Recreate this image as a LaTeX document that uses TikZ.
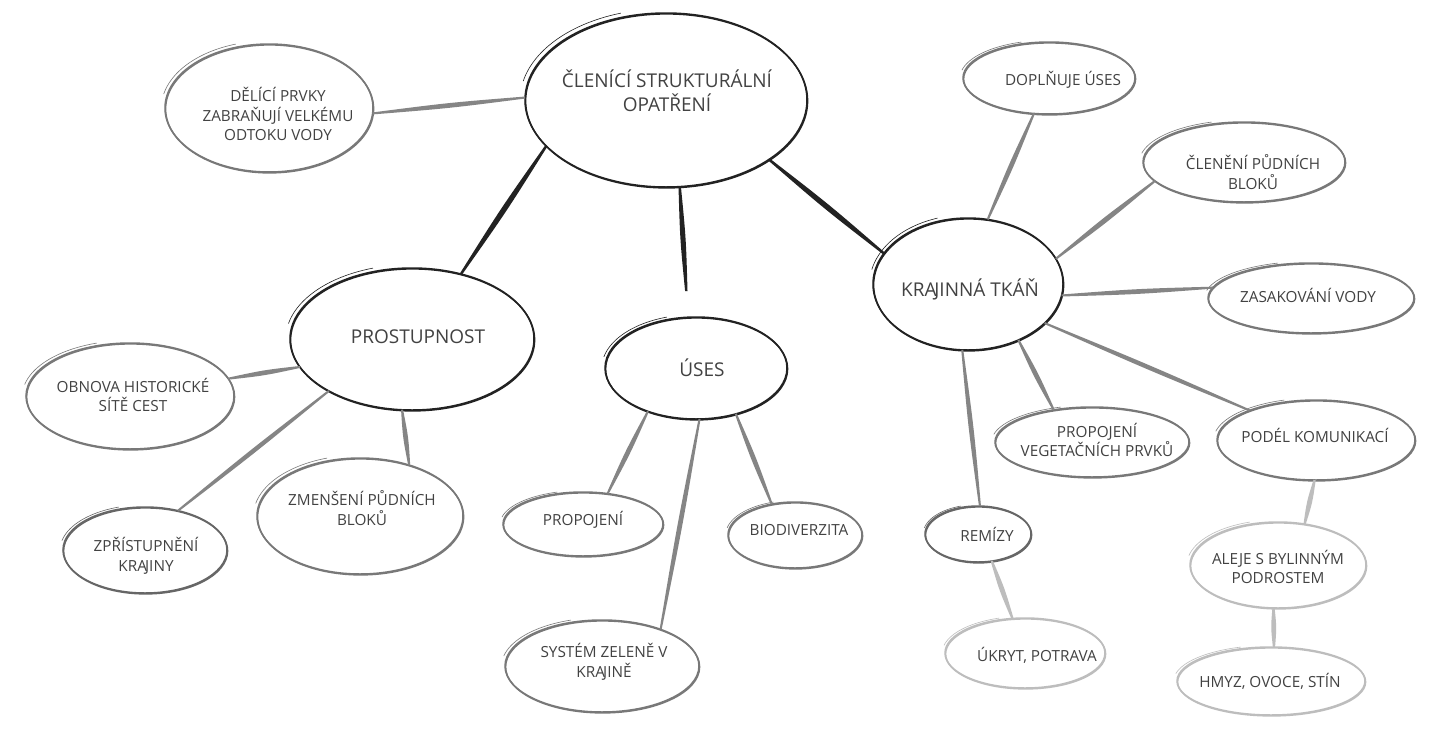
\documentclass[tikz,border=0pt]{standalone}
\usepackage{fontspec}
\setmainfont{Open Sans}
\usetikzlibrary{calc,shapes.geometric}
\definecolor{cInk}{HTML}{222222}
\definecolor{cMid}{HTML}{787878}
\definecolor{cDark}{HTML}{666666}
\definecolor{cCon}{HTML}{858585}
\definecolor{cLight}{HTML}{BDBDBD}
\definecolor{cTxt}{HTML}{424242}
\tikzset{
  anch/.style={ellipse, inner sep=0pt, outer sep=0pt, draw=none},
  bigtxt/.style={font=\fontsize{19}{24}\selectfont, text=cTxt, align=center, inner sep=0pt},
  smalltxt/.style={font=\fontsize{15.3}{19.5}\selectfont, text=cTxt, align=center, inner sep=0pt},
  olBlack/.style={draw=cInk},
  olGray/.style={draw=cMid},
  olDark/.style={draw=cDark},
  olLight/.style={draw=cLight},
  cnBlack/.style={fill=cInk, draw=cInk, line width=2.4pt, line cap=round},
  cnGray/.style={fill=cCon, draw=cCon, line width=2.0pt, line cap=round},
  cnLight/.style={fill=cLight, draw=cLight, line width=2.2pt, line cap=round},
}
% bubble: name, x, y, x radius, y radius, outline style
\newcommand\bubble[6]{%
  \node[anch, minimum width={2*#4pt}, minimum height={2*#5pt}] (#1) at (#2,#3) {};
  \draw[#6, line width=1.5pt] (#1.center) ellipse [x radius=#4pt, y radius=#5pt];
  \draw[#6, line width=1.5pt] ([shift={(0.6,0.9)}]#1.center) ellipse [x radius=#4pt, y radius=#5pt];
  \draw[#6, line width=0.6pt, shift={(#1.center)}] plot[domain=108:168, samples=20, smooth]
    ({1.035*#4*cos(\x)}, {-1.05*#5*sin(\x)});
}
% tapered connector: style, from, to, width
\newcommand\conn[4]{%
  \filldraw[#1] (#2) .. controls ($(#2)!0.5!(#3)!#4pt!90:(#3)$) .. (#3)
    .. controls ($(#2)!0.5!(#3)!#4pt!-90:(#3)$) .. (#2) -- cycle;}
\begin{document}
\begin{tikzpicture}[x=1pt, y=-1pt]
\fill[white] (0,0) rectangle (1430,731);
\useasboundingbox (0,0) rectangle (1430,731);

% bubbles
\bubble{M}{666}{100}{141}{87}{olBlack}
\bubble{D}{269}{108}{104}{64}{olGray}
\bubble{P}{412}{339}{122}{71}{olBlack}
\bubble{O}{130}{396}{104}{53}{olGray}
\bubble{Z}{145}{550}{82}{43}{olDark}
\bubble{ZM}{360}{516}{103}{58}{olGray}
\bubble{U}{696}{368}{91}{51}{olBlack}
\bubble{PR}{583}{524}{80}{32}{olGray}
\bubble{B}{795}{535}{67}{33}{olGray}
\bubble{S}{602}{666}{97}{46}{olGray}
\bubble{K}{968}{284}{95}{66}{olBlack}
\bubble{DO}{1049}{78}{86}{36}{olGray}
\bubble{C}{1244}{162}{101}{40}{olGray}
\bubble{ZA}{1311}{298}{103}{35}{olGray}
\bubble{PV}{1092}{442}{97}{35}{olGray}
\bubble{PK}{1316}{440}{99}{40}{olGray}
\bubble{R}{978}{534}{53}{28}{olDark}
\bubble{UK}{1025}{653}{80}{35}{olLight}
\bubble{A}{1278}{565}{88}{43}{olLight}
\bubble{H}{1271}{681}{94}{34}{olLight}

% connectors
\conn{cnGray}{M.179}{D.357}{1.8}
\conn{cnBlack}{M.201}{P.53}{2.0}
\conn{cnBlack}{M.279}{$(M.279)!0.8!(U.99)$}{1.8}
\conn{cnBlack}{M.330}{K.160}{2.0}
\conn{cnGray}{P.194}{O.10}{1.8}
\conn{cnGray}{P.212}{Z.50}{1.6}
\conn{cnGray}{P.262}{ZM.46}{1.8}
\conn{cnGray}{U.222}{PR.51}{1.8}
\conn{cnGray}{U.274}{S.32}{1.8}
\conn{cnGray}{U.311}{B.127}{1.8}
\conn{cnGray}{K.73}{DO.247}{1.8}
\conn{cnGray}{K.16}{C.192}{2.0}
\conn{cnGray}{K.353}{ZA.174}{1.8}
\conn{cnGray}{K.312}{PV.140}{1.8}
\conn{cnGray}{K.333}{PK.156}{1.6}
\conn{cnGray}{K.265}{R.86}{1.8}
\conn{cnLight}{R.297}{UK.110}{1.8}
\conn{cnLight}{PK.268}{A.57}{1.8}
\conn{cnLight}{A.264}{H.85}{1.8}

% texts
\node[bigtxt] (M-t) at (667,91) {ČLENÍCÍ STRUKTURÁLNÍ\\OPATŘENÍ};
\node[smalltxt] (D-t) at (278,114) {DĚLÍCÍ PRVKY\\ZABRAŇUJÍ VELKÉMU\\ODTOKU VODY};
\node[bigtxt] (P-t) at (418,337) {PROSTUPNOST};
\node[smalltxt] (O-t) at (133,395) {OBNOVA HISTORICKÉ\\SÍTĚ CEST};
\node[smalltxt] (Z-t) at (146,556) {ZPŘÍSTUPNĚNÍ\\KRA\kern-1.8pt JINY};
\node[smalltxt] (ZM-t) at (362,508) {ZMENŠENÍ PŮDNÍCH\\BLOKŮ};
\node[bigtxt] (U-t) at (702,368) {ÚSES};
\node[smalltxt] (PR-t) at (583,520) {PROPOJENÍ};
\node[smalltxt] (B-t) at (799,530) {BIODIVERZITA};
\node[smalltxt] (S-t) at (604,662) {SYSTÉM ZELENĚ V\\KRA\kern-1.8pt JINĚ};
\node[bigtxt] (K-t) at (970,289) {KRA\kern-2.2pt JINNÁ TKÁŇ};
\node[smalltxt] (DO-t) at (1063,80) {DOPLŇUJE ÚSES};
\node[smalltxt] (C-t) at (1253,172) {ČLENĚNÍ PŮDNÍCH\\BLOKŮ};
\node[smalltxt] (ZA-t) at (1308,295) {ZASAKOVÁNÍ VODY};
\node[smalltxt] (PV-t) at (1097,440) {PROPOJENÍ\\VEGETAČNÍCH PRVKŮ};
\node[smalltxt] (PK-t) at (1315,435) {PODÉL KOMUNIKACÍ};
\node[smalltxt] (R-t) at (987,534) {REMÍZY};
\node[smalltxt] (UK-t) at (1037,655) {ÚKRYT, POTRAVA};
\node[smalltxt] (A-t) at (1278,567) {ALEJE S BYLINNÝM\\PODROSTEM};
\node[smalltxt] (H-t) at (1270,681) {HMYZ, OVOCE, STÍN};
\end{tikzpicture}
\end{document}
